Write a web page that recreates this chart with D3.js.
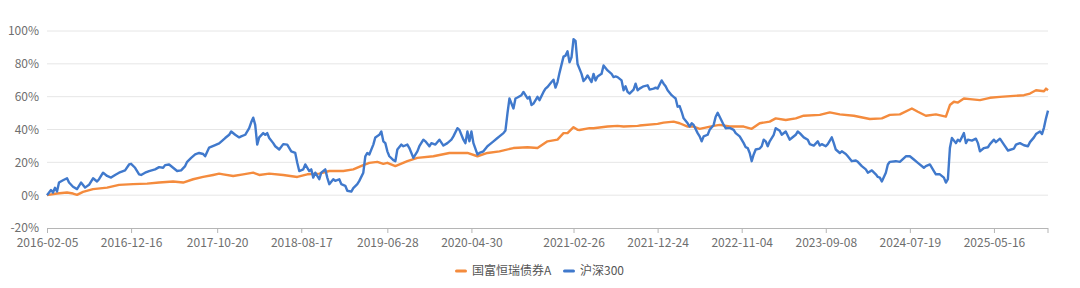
<!DOCTYPE html>
<html>
<head>
<meta charset="utf-8">
<script src="https://cdn.jsdelivr.net/npm/d3@7"></script>
<style>
  body { margin: 0; background: #fff; }
  text { font-family: "Microsoft YaHei", "Noto Sans CJK SC", sans-serif; }
</style>
</head>
<body>
<script>
// week index (0 = 2016-02-05) and cumulative return in %
var tickLabels = ["2016-02-05", "2016-12-16", "2017-10-20", "2018-08-17", "2019-06-28", "2020-04-30",
                  "2021-02-26", "2021-12-24", "2022-11-04", "2023-09-08", "2024-07-19", "2025-05-16"];
var tickIdx = [0, 42, 85, 127, 170, 212, 263, 305, 347, 389, 431, 473];
var lastIdx = 500;
var yTicks = [-20, 0, 20, 40, 60, 80, 100];
var seriesNames = ["国富恒瑞债券A", "沪深300"];
var seriesColors = ["#f48b3d", "#4079cc"];

var fund = [[0,0],[5,1.0],[10,1.6],[13,1.0],[15,0.2],[18,2.0],[23,3.7],[30,4.6],[36,6.3],[43,6.7],[50,7.0],
  [56,7.7],[63,8.3],[68,7.7],[73,9.7],[78,11.1],[83,12.3],[86,13.1],[88,12.7],[93,11.7],[98,12.7],[103,13.7],
  [106,12.3],[111,13.1],[118,12.3],[125,11.1],[130,12.7],[136,13.1],[141,14.7],[148,14.7],[153,15.7],[158,18.3],
  [161,19.7],[165,20.3],[168,19.1],[170,19.7],[174,17.7],[180,20.7],[185,22.7],[193,23.7],[201,25.7],[210,25.7],
  [215,23.7],[220,25.7],[226,26.7],[233,28.7],[240,29.2],[245,28.7],[250,32.8],[255,33.8],[258,37.8],[260,37.8],
  [263,41.4],[265,39.8],[266,39.7],[271,40.8],[273,40.8],[280,41.8],[285,42.2],[288,41.8],[295,42.2],[296,42.4],
  [305,43.4],[308,44.2],[313,44.8],[316,43.8],[320,41.8],[323,41.8],[326,40.4],[333,42.2],[336,42.8],[341,41.8],
  [348,41.8],[352,40.4],[356,43.8],[361,44.8],[364,46.8],[369,45.8],[374,46.8],[378,48.4],[386,48.9],[391,50.4],
  [396,49.2],[403,48.4],[411,46.4],[417,46.8],[421,48.9],[426,49.2],[432,52.8],[435,50.8],[439,48.4],[444,49.2],
  [449,47.8],[451,54.9],[453,56.9],[455,56.4],[458,58.9],[461,58.5],[466,57.9],[471,59.3],[476,59.9],[483,60.5],
  [488,60.9],[491,61.9],[494,63.9],[498,63.3],[499,64.9],[500,63.9]];

var hs300 = [[0,0],[2,3.1],[3,1.6],[4,4.5],[5,2.2],[6,7.7],[8,9.1],[10,10.3],[11,7.7],[13,5.1],[15,3.7],[17,7.7],
  [19,4.6],[21,6.3],[23,10.3],[25,8.3],[26,9.7],[28,13.7],[30,11.7],[32,10.7],[34,12.3],[36,13.7],[39,15.1],
  [41,18.7],[42,19.1],[44,16.7],[46,12.7],[47,12.3],[49,13.7],[51,14.7],[54,15.7],[56,17.1],[58,16.7],[59,18.3],
  [61,18.7],[63,16.7],[65,14.7],[67,15.1],[69,17.7],[70,20.3],[72,22.7],[74,24.8],[76,25.7],[78,25.1],[79,23.7],
  [81,29.0],[84,30.5],[86,31.5],[89,34.8],[91,36.8],[92,38.8],[94,36.8],[96,35.2],[97,35.8],[99,36.8],[101,40.8],
  [102,44.4],[103,47.2],[104,42.8],[105,30.8],[106,35.2],[108,37.8],[109,36.8],[110,37.8],[111,34.8],[113,31.7],
  [114,29.8],[116,27.8],[118,31.1],[120,30.8],[122,26.7],[124,25.7],[125,19.7],[126,14.7],[128,15.7],[129,18.7],
  [131,14.7],[132,15.7],[133,10.7],[134,13.7],[136,9.7],[137,13.7],[139,15.7],[140,10.7],[141,6.7],[143,9.7],
  [144,8.7],[146,9.7],[147,6.7],[149,5.7],[150,2.7],[152,2.2],[153,4.3],[155,6.7],[156,8.7],[158,13.7],[159,23.7],
  [160,25.7],[161,24.8],[163,30.8],[164,35.2],[166,36.8],[167,38.8],[168,32.8],[169,31.7],[170,26.7],[171,23.7],
  [173,21.3],[174,20.7],[175,27.8],[177,30.8],[178,29.8],[180,30.8],[181,28.7],[183,22.7],[185,26.7],[186,29.8],
  [188,33.8],[189,32.8],[191,29.8],[192,31.7],[194,30.8],[196,33.8],[198,30.2],[200,31.7],[202,33.8],[203,35.8],
  [205,40.8],[206,39.8],[208,33.8],[209,31.7],[210,38.8],[211,32.8],[212,38.8],[213,31.7],[215,24.8],[216,25.7],
  [218,26.7],[220,29.8],[221,30.8],[223,32.8],[225,34.8],[226,35.8],[228,37.8],[229,39.4],[230,49.8],[231,58.9],
  [233,52.8],[234,58.9],[235,59.5],[237,60.9],[238,62.9],[240,58.9],[241,59.9],[242,54.9],[243,55.8],[245,59.9],
  [246,57.9],[248,62.9],[249,64.9],[250,65.9],[252,68.9],[253,70.3],[254,65.5],[255,68.9],[256,74.5],[258,84.4],
  [259,85.0],[260,87.6],[261,81.0],[262,84.0],[263,95.0],[264,94.0],[265,79.9],[266,76.9],[267,73.9],[268,69.5],
  [269,70.9],[270,72.9],[272,68.9],[273,73.9],[274,69.9],[275,72.3],[277,73.9],[278,79.0],[279,77.5],[280,76.0],
  [282,73.9],[283,71.9],[284,72.3],[285,71.9],[287,69.9],[288,63.9],[289,66.3],[290,62.9],[291,61.9],[293,64.3],
  [294,67.9],[295,63.9],[296,64.9],[298,66.3],[300,66.9],[301,64.3],[303,64.9],[304,65.5],[305,64.9],[307,69.9],
  [308,67.9],[309,66.3],[310,63.9],[312,60.9],[313,59.9],[314,58.9],[315,53.9],[316,54.3],[317,50.8],[318,46.8],
  [320,43.8],[321,41.8],[322,43.8],[323,42.8],[325,37.8],[326,35.8],[327,32.8],[328,35.8],[330,36.8],[331,39.8],
  [333,42.8],[334,47.8],[335,50.2],[336,47.8],[338,42.8],[339,40.8],[341,41.0],[343,39.8],[344,37.8],[346,35.8],
  [348,31.7],[349,29.2],[350,28.7],[351,25.7],[352,20.7],[353,24.8],[354,27.8],[356,28.4],[357,29.8],[358,33.8],
  [359,32.8],[360,29.8],[361,32.8],[363,36.8],[364,40.8],[366,39.2],[367,36.8],[369,38.8],[371,33.8],[372,34.8],
  [374,36.8],[375,38.8],[376,37.8],[378,35.2],[380,33.8],[381,31.1],[383,30.2],[385,32.8],[386,30.2],[387,31.1],
  [389,29.8],[390,31.1],[392,35.2],[393,31.7],[394,27.8],[396,25.7],[397,26.7],[399,25.1],[400,23.7],[402,20.7],
  [404,21.1],[405,20.3],[407,17.7],[409,15.7],[410,13.7],[412,15.1],[414,12.7],[415,11.1],[416,10.7],[417,8.3],
  [419,13.7],[420,18.7],[421,20.3],[424,20.7],[426,20.3],[429,23.7],[431,23.7],[433,21.7],[435,19.7],[438,16.7],
  [439,17.7],[441,18.7],[443,14.7],[444,12.7],[446,12.7],[448,10.7],[449,7.7],[450,9.7],[451,28.7],[452,34.8],
  [454,31.7],[455,33.8],[456,32.8],[458,37.8],[459,31.7],[460,33.8],[462,33.2],[464,34.4],[465,31.7],[466,26.7],
  [468,28.7],[470,29.2],[471,31.1],[473,33.8],[474,32.3],[476,34.4],[478,30.8],[480,27.2],[483,28.4],[484,30.8],
  [486,31.7],[488,30.4],[490,29.8],[491,32.3],[493,35.2],[494,37.2],[496,38.8],[497,37.2],[498,41.2],[499,46.8],
  [500,51.5]];

var width = 1080, height = 288;
var margin = {left: 47, right: 32, top: 31, bottom: 60};

var svg = d3.select("body").append("svg")
  .attr("width", width)
  .attr("height", height);

var x = d3.scaleLinear().domain([0, lastIdx]).range([margin.left, width - margin.right]);
var y = d3.scaleLinear().domain([-20, 100]).range([height - margin.bottom, margin.top]);

// grid lines
svg.append("g")
  .selectAll("line")
  .data(yTicks.filter(function (t) { return t > -20; }))
  .join("line")
  .attr("x1", margin.left).attr("x2", width - margin.right)
  .attr("y1", function (d) { return y(d); }).attr("y2", function (d) { return y(d); })
  .attr("stroke", "#e6e6e6")
  .attr("stroke-width", 1);

// y axis labels
var yAxis = d3.axisLeft(y).tickValues(yTicks).tickSize(0).tickPadding(8)
  .tickFormat(function (d) { return d + "%"; });
svg.append("g")
  .attr("transform", "translate(" + margin.left + ",0)")
  .call(yAxis)
  .call(function (g) { g.select(".domain").remove(); })
  .selectAll("text")
  .attr("fill", "#6e6e6e")
  .style("font-size", "12px");

// x axis
var xAxis = d3.axisBottom(x).tickValues(tickIdx).tickSize(5).tickPadding(5)
  .tickFormat(function (d, i) { return tickLabels[i]; });
var gx = svg.append("g")
  .attr("transform", "translate(0," + y(-20) + ")")
  .call(xAxis);
gx.select(".domain").attr("stroke", "#b5b5b5").attr("d", "M" + margin.left + ",0.5H" + (width - margin.right));
gx.selectAll(".tick line").attr("stroke", "#b5b5b5");
gx.selectAll("text").attr("fill", "#6e6e6e").style("font-size", "12px");
// closing tick at the axis end
gx.append("line")
  .attr("x1", x(lastIdx)).attr("x2", x(lastIdx))
  .attr("y1", 0).attr("y2", 5)
  .attr("stroke", "#b5b5b5");

// lines
var line = d3.line()
  .x(function (d) { return x(d[0]); })
  .y(function (d) { return y(d[1]); });

[fund, hs300].forEach(function (s, i) {
  svg.append("path")
    .datum(s)
    .attr("fill", "none")
    .attr("stroke", seriesColors[i])
    .attr("stroke-width", 2.4)
    .attr("stroke-linejoin", "round")
    .attr("d", line);
});

// legend
var legend = svg.append("g").attr("transform", "translate(0,271)");
var legendX = [455, 563];
seriesNames.forEach(function (name, i) {
  legend.append("rect")
    .attr("x", legendX[i]).attr("y", -1.5)
    .attr("width", 12).attr("height", 3).attr("rx", 1.5)
    .attr("fill", seriesColors[i]);
  legend.append("text")
    .attr("x", legendX[i] + 17).attr("y", 0)
    .attr("dy", "0.35em")
    .attr("fill", "#555")
    .style("font-size", "12px")
    .text(name);
});
</script>
</body>
</html>
